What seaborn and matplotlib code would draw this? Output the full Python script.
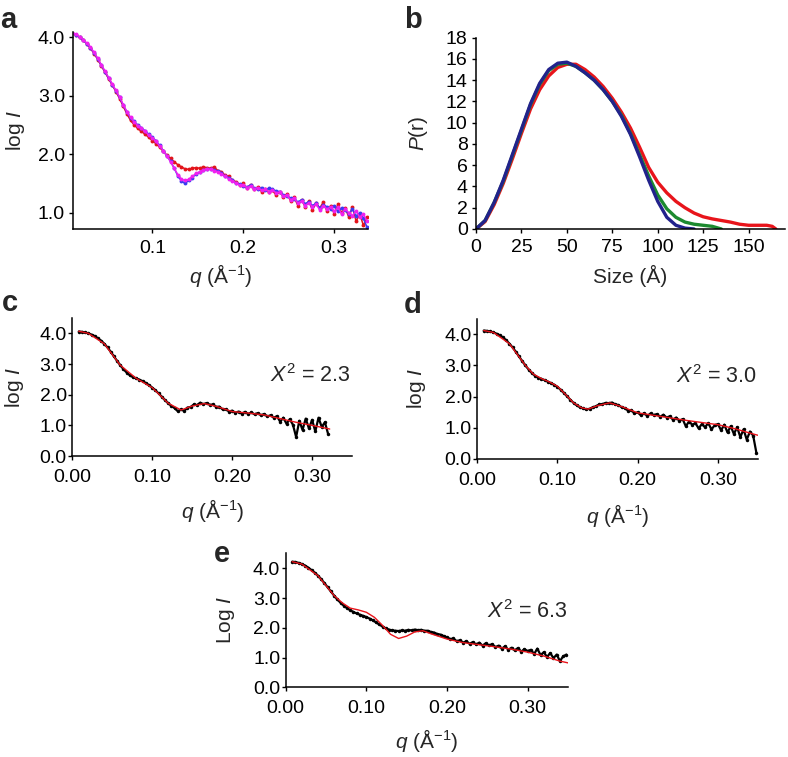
import numpy as np
import matplotlib
matplotlib.use("Agg")
import matplotlib.pyplot as plt
from matplotlib.ticker import FormatStrFormatter
import seaborn as sns

# shared q grid (A^-1) for the scattering curves
q = np.round(np.arange(0.008, 0.3481, 0.004), 3)

# panel a: three scattering curves, q[1:83]
a_blue = [4.07, 4.04, 4.00, 3.95, 3.89, 3.82, 3.73, 3.63, 3.52, 3.41, 3.30, 3.19, 3.08, 2.97, 2.84,
          2.72, 2.62, 2.56, 2.50, 2.45, 2.40, 2.34, 2.29, 2.23, 2.15, 2.06, 1.97, 1.88, 1.76,
          1.63, 1.54, 1.50, 1.55, 1.60, 1.66, 1.69, 1.73, 1.74, 1.75, 1.73, 1.71, 1.67, 1.62, 1.60,
          1.55, 1.50, 1.49,
          1.46, 1.44, 1.47, 1.42, 1.40, 1.43, 1.38, 1.42, 1.40, 1.37, 1.36, 1.30, 1.28, 1.25,
          1.24, 1.18, 1.22, 1.15, 1.19, 1.12, 1.16, 1.08, 1.13, 1.10, 1.06, 1.12, 1.02, 1.08, 1.04,
          0.98, 1.06, 0.94, 1.00, 0.90, 0.75]
a_magenta = [4.08, 4.05, 4.01, 3.96, 3.90, 3.83, 3.74, 3.64, 3.53, 3.42, 3.31, 3.20, 3.09, 2.98, 2.85,
             2.73, 2.63, 2.55, 2.49, 2.44, 2.39, 2.33, 2.28, 2.22, 2.14, 2.06, 1.97, 1.87, 1.76,
             1.65, 1.57, 1.55, 1.57, 1.62, 1.67, 1.70, 1.73, 1.75, 1.74, 1.72, 1.70, 1.66, 1.62, 1.58,
             1.54, 1.51, 1.47,
             1.48, 1.43, 1.45, 1.41, 1.43, 1.38, 1.40, 1.36, 1.39, 1.34, 1.35, 1.28, 1.30, 1.22,
             1.25, 1.16, 1.20, 1.12, 1.17, 1.10, 1.14, 1.05, 1.12, 1.06, 1.10, 1.02, 1.09, 0.98, 1.06,
             1.00, 0.95, 1.03, 0.92, 0.98, 0.85]
a_red = [4.07, 4.04, 4.00, 3.95, 3.89, 3.81, 3.72, 3.62, 3.51, 3.40, 3.29, 3.18, 3.07, 2.95, 2.82,
         2.69, 2.58, 2.50, 2.44, 2.39, 2.34, 2.29, 2.23, 2.18, 2.12, 2.05, 1.98, 1.93, 1.87,
         1.82, 1.78, 1.75, 1.74, 1.76, 1.77, 1.76, 1.78, 1.77, 1.76, 1.78, 1.72, 1.70, 1.64, 1.62,
         1.55, 1.53, 1.48,
         1.50, 1.42, 1.48, 1.40, 1.44, 1.36, 1.41, 1.35, 1.38, 1.30, 1.36, 1.27, 1.32, 1.20,
         1.26, 1.12, 1.22, 1.10, 1.20, 1.05, 1.16, 1.08, 1.18, 1.02, 1.12, 0.98, 1.14, 1.00, 1.08,
         0.92, 1.10, 0.85, 0.98, 0.78, 0.92]

# panel b: pair distance distributions
r_blue = [0, 5, 10, 15, 20, 25, 30, 35, 40, 45, 50, 55, 60, 65, 70, 75, 80, 85, 90, 95, 100,
          105, 110, 115, 120]
p_blue = [0, 0.8, 2.5, 4.6, 7.0, 9.4, 11.8, 13.7, 15.0, 15.6, 15.7, 15.3, 14.7, 14.0, 13.1, 12.0,
          10.6, 8.9, 6.8, 4.6, 2.6, 1.1, 0.35, 0.08, 0]
r_green = [0, 5, 10, 15, 20, 25, 30, 35, 40, 45, 50, 55, 60, 65, 70, 75, 80, 85, 90, 95, 100,
           105, 110, 115, 120, 125, 130, 135]
p_green = [0, 0.8, 2.5, 4.5, 6.9, 9.3, 11.7, 13.6, 14.9, 15.5, 15.6, 15.3, 14.7, 14.0, 13.1, 12.0,
           10.7, 9.0, 7.0, 5.0, 3.2, 1.9, 1.1, 0.65, 0.45, 0.35, 0.25, 0]
r_red = [0, 5, 10, 15, 20, 25, 30, 35, 40, 45, 50, 55, 60, 65, 70, 75, 80, 85, 90, 95, 100,
         105, 110, 115, 120, 125, 130, 135, 140, 145, 150, 155, 160, 163, 165]
p_red = [0, 0.7, 2.3, 4.3, 6.6, 9.0, 11.3, 13.1, 14.4, 15.2, 15.5, 15.5, 15.0, 14.3, 13.4, 12.3,
         11.0, 9.5, 7.7, 5.8, 4.4, 3.4, 2.6, 2.0, 1.5, 1.15, 0.95, 0.8, 0.65, 0.45, 0.35, 0.35,
         0.35, 0.25, 0]

# panel c: data q[0:79] and fit
c_data = [4.06, 4.05, 4.03, 4.00, 3.96, 3.91, 3.84, 3.76, 3.66, 3.54, 3.40, 3.25, 3.10, 2.96, 2.83,
          2.72, 2.63, 2.57, 2.53, 2.49, 2.44, 2.38, 2.31, 2.23, 2.14, 2.04, 1.93, 1.82, 1.72, 1.63,
          1.56, 1.46, 1.52, 1.47, 1.58, 1.60, 1.68, 1.66, 1.74, 1.69, 1.73, 1.67, 1.68, 1.60, 1.61,
          1.52, 1.53, 1.45,
          1.48, 1.41, 1.45, 1.38, 1.44, 1.37, 1.42, 1.36, 1.40, 1.33, 1.37, 1.29, 1.33, 1.25,
          1.30, 1.12, 1.25, 1.05, 1.20, 1.02, 0.62, 1.15, 0.85, 1.22, 0.90, 1.18, 0.80, 1.25, 0.95,
          1.10, 0.72]
c_fit_q = [0.008, 0.02, 0.04, 0.06, 0.08, 0.10, 0.12, 0.136, 0.15, 0.165, 0.18, 0.20, 0.22, 0.24,
           0.26, 0.28, 0.30, 0.322]
c_fit = [4.07, 4.00, 3.66, 2.96, 2.53, 2.23, 1.72, 1.50, 1.63, 1.71, 1.62, 1.45, 1.40, 1.34,
         1.22, 1.10, 1.00, 0.88]

# panel d
d_data = [4.12, 4.11, 4.09, 4.06, 4.02, 3.97, 3.90, 3.81, 3.70, 3.58, 3.44, 3.29, 3.14, 3.00, 2.87,
          2.76, 2.67, 2.61, 2.57, 2.53, 2.48, 2.43, 2.38, 2.31, 2.22, 2.12, 2.01, 1.90, 1.80, 1.72,
          1.66, 1.62, 1.59, 1.61, 1.66, 1.69, 1.75, 1.76, 1.80, 1.79, 1.81, 1.75, 1.73, 1.66, 1.63,
          1.55, 1.57, 1.46,
          1.50, 1.40, 1.47, 1.38, 1.46, 1.41, 1.44, 1.35, 1.42, 1.33, 1.37, 1.26, 1.33, 1.22,
          1.28, 1.05, 1.20, 1.10, 1.15, 0.98, 1.12, 1.02, 1.15, 0.95, 1.08, 1.12, 0.92, 1.10, 0.85,
          1.05, 0.80, 1.02, 0.70, 0.95, 0.62, 0.88, 0.75, 0.20]
d_fit_q = [0.008, 0.02, 0.04, 0.06, 0.07, 0.08, 0.09, 0.10, 0.11, 0.12, 0.13, 0.138, 0.15, 0.165,
           0.18, 0.20, 0.22, 0.24, 0.26, 0.28, 0.30, 0.32, 0.34, 0.35]
d_fit = [4.12, 4.06, 3.70, 3.00, 2.72, 2.58, 2.47, 2.33, 2.07, 1.80, 1.64, 1.60, 1.71, 1.80,
         1.68, 1.48, 1.40, 1.32, 1.24, 1.17, 1.10, 0.98, 0.83, 0.76]

# panel e
e_data = [4.22, 4.21, 4.18, 4.14, 4.09, 4.02, 3.94, 3.85, 3.75, 3.63, 3.50, 3.36, 3.22, 3.08, 2.95,
          2.84, 2.74, 2.66, 2.59, 2.53, 2.48, 2.44, 2.40, 2.36, 2.31, 2.25, 2.18, 2.11, 2.04, 1.98,
          1.94, 1.91, 1.90, 1.89, 1.91, 1.90, 1.93, 1.91, 1.94, 1.92, 1.93, 1.90, 1.90, 1.86, 1.84,
          1.79, 1.77, 1.72,
          1.68, 1.62, 1.64, 1.55, 1.58, 1.50, 1.55, 1.46, 1.52, 1.44, 1.50, 1.40, 1.48, 1.41,
          1.45, 1.35, 1.40, 1.30, 1.38, 1.26, 1.33, 1.24, 1.32, 1.20, 1.28, 1.22, 1.26, 1.12, 1.30,
          1.08, 1.18, 1.02, 1.15, 0.98, 1.10, 0.88, 1.04, 1.10]
e_fit_q = [0.008, 0.02, 0.04, 0.06, 0.07, 0.08, 0.09, 0.10, 0.11, 0.12, 0.13, 0.14, 0.15, 0.16,
           0.17, 0.18, 0.20, 0.22, 0.24, 0.26, 0.28, 0.30, 0.32, 0.34, 0.35]
e_fit = [4.22, 4.14, 3.75, 3.08, 2.84, 2.66, 2.60, 2.52, 2.35, 2.08, 1.78, 1.64, 1.72, 1.86,
         1.90, 1.80, 1.62, 1.50, 1.43, 1.36, 1.28, 1.18, 1.05, 0.88, 0.82]

sns.set_style("ticks")
plt.rcParams["font.family"] = ["Liberation Sans", "DejaVu Sans"]
plt.rcParams["mathtext.fontset"] = "custom"
plt.rcParams["mathtext.rm"] = "Liberation Sans"
plt.rcParams["mathtext.it"] = "Liberation Sans:italic"

TICK = 14
LAB = 15

fig = plt.figure(figsize=(7.88, 7.57), dpi=100)
ax_a = fig.add_axes([0.0923, 0.6971, 0.3751, 0.2602])
ax_b = fig.add_axes([0.6041, 0.6975, 0.392, 0.2527])
ax_c = fig.add_axes([0.0918, 0.3976, 0.355, 0.1823])
ax_d = fig.add_axes([0.6057, 0.3937, 0.3562, 0.1853])
ax_e = fig.add_axes([0.3626, 0.0921, 0.3582, 0.1769])


def style(ax, xpad, ypad):
    sns.despine(ax=ax)
    for s in ["left", "bottom"]:
        ax.spines[s].set_linewidth(1.1)
        ax.spines[s].set_color("black")
    ax.tick_params(direction="out", length=3, width=1, labelsize=TICK, colors="black")
    ax.tick_params(axis="x", pad=xpad)
    ax.tick_params(axis="y", pad=ypad)


# a
qa = q[1:83]
for vals, col in [(a_red, "#e3141b"), (a_blue, "#3b3bf0"), (a_magenta, "#f020f0")]:
    sns.lineplot(x=qa, y=vals, ax=ax_a, color=col, lw=1.1, marker="o", markersize=2.8,
                 markeredgewidth=0)
ax_a.set_xlim(0.0125, 0.3374)
ax_a.set_ylim(0.715, 4.085)
ax_a.set_xticks([0.1, 0.2, 0.3])
ax_a.set_yticks([1.0, 2.0, 3.0, 4.0])
ax_a.xaxis.set_major_formatter(FormatStrFormatter("%.1f"))
ax_a.yaxis.set_major_formatter(FormatStrFormatter("%.1f"))
ax_a.set_xlabel(r"$q$ (Å$^{-1}$)", fontsize=LAB)
ax_a.set_ylabel(r"log $I$", fontsize=LAB)
ax_a.xaxis.set_label_coords(0.5, -0.165)
ax_a.yaxis.set_label_coords(-0.156, 0.5)
style(ax_a, 4.5, 2.5)

# b
sns.lineplot(x=r_red, y=p_red, ax=ax_b, color="#e8141b", lw=2.4)
sns.lineplot(x=r_green, y=p_green, ax=ax_b, color="#1d8a30", lw=2.4)
sns.lineplot(x=r_blue, y=p_blue, ax=ax_b, color="#22228c", lw=2.4)
ax_b.set_xlim(0, 170)
ax_b.set_ylim(0, 18)
ax_b.set_xticks([0, 25, 50, 75, 100, 125, 150])
ax_b.set_yticks(range(0, 19, 2))
ax_b.set_xlabel("Size (Å)", fontsize=LAB)
ax_b.set_ylabel(r"$P$(r)", fontsize=LAB)
ax_b.xaxis.set_label_coords(0.5, -0.19)
ax_b.yaxis.set_label_coords(-0.15, 0.5)
style(ax_b, 4.5, 3)

# c, d, e
panels = [(ax_c, q[:79], c_data, c_fit_q, c_fit, "2.3", "log", -0.30, -0.165, 0.993, 0.58),
          (ax_d, q, d_data, d_fit_q, d_fit, "3.0", "log", -0.31, -0.176, 0.996, 0.585),
          (ax_e, q, e_data, e_fit_q, e_fit, "6.3", "Log", -0.30, -0.172, 1.0, 0.562)]
for ax, qq, dat, fq, fv, chi, lab, xl, yl, tx, ty in panels:
    sns.lineplot(x=qq, y=dat, ax=ax, color="black", lw=1.6, marker="o", markersize=2.5,
                 markeredgewidth=0)
    sns.lineplot(x=fq, y=fv, ax=ax, color="#e8141b", lw=1.0)
    ax.set_xlim(0, 0.35)
    ax.set_ylim(0, 4.5)
    ax.set_xticks([0.0, 0.1, 0.2, 0.3])
    ax.set_yticks([0.0, 1.0, 2.0, 3.0, 4.0])
    ax.xaxis.set_major_formatter(FormatStrFormatter("%.2f"))
    ax.yaxis.set_major_formatter(FormatStrFormatter("%.1f"))
    ax.set_xlabel(r"$q$ (Å$^{-1}$)", fontsize=LAB)
    ax.set_ylabel(lab + r" $I$", fontsize=LAB)
    ax.xaxis.set_label_coords(0.5, xl)
    ax.yaxis.set_label_coords(yl, 0.5)
    ax.text(tx, ty, r"$X^2$ = " + chi, transform=ax.transAxes, ha="right", va="center",
            fontsize=15.5)
    style(ax, 6.5, 1)

for letter, x, y in [("a", 0.0, 0.963), ("b", 0.513, 0.963), ("c", 0.002, 0.589),
                     ("d", 0.513, 0.5865), ("e", 0.272, 0.2576)]:
    fig.text(x, y, letter, fontsize=21, fontweight="bold", va="baseline")

fig.savefig("out.png", dpi=100)
